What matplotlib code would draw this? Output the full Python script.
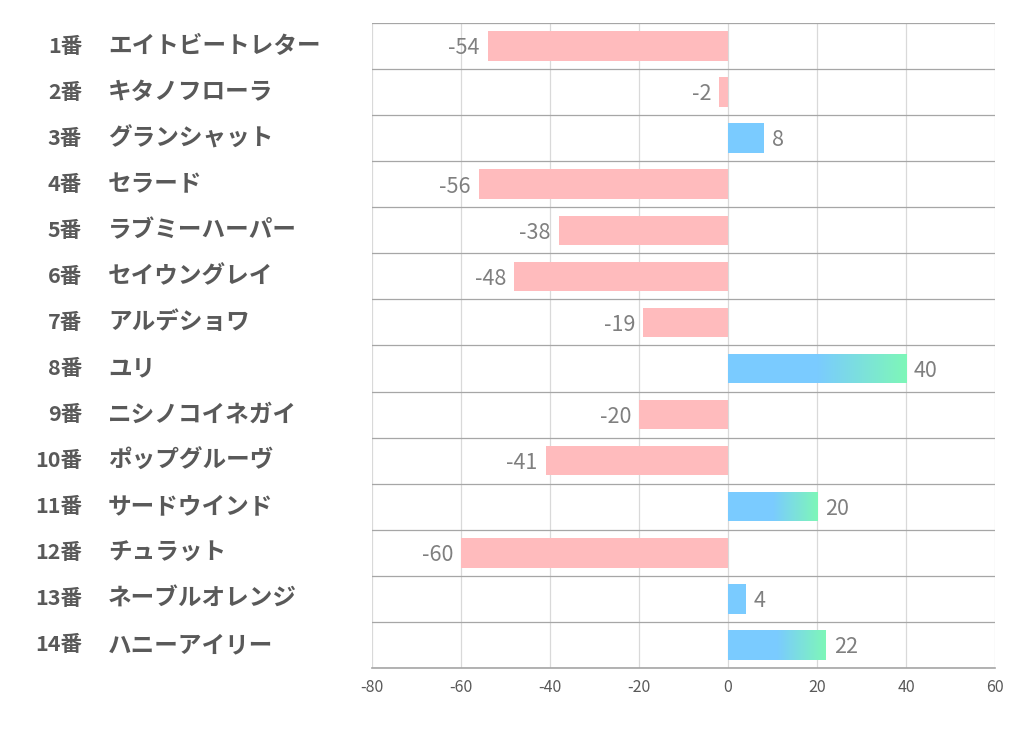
import matplotlib
matplotlib.use("Agg")
import matplotlib.pyplot as plt
import matplotlib.transforms as mtransforms
from matplotlib.colors import LinearSegmentedColormap
import numpy as np

plt.rcParams["font.family"] = ["Noto Sans CJK JP", "DejaVu Sans"]

numbers = ["1番", "2番", "3番", "4番", "5番", "6番", "7番", "8番", "9番",
           "10番", "11番", "12番", "13番", "14番"]
names = ["エイトビートレター", "キタノフローラ", "グランシャット", "セラード",
         "ラブミーハーパー", "セイウングレイ", "アルデショワ", "ユリ",
         "ニシノコイネガイ", "ポップグルーヴ", "サードウインド", "チュラット",
         "ネーブルオレンジ", "ハニーアイリー"]
values = [-54, -2, 8, -56, -38, -48, -19, 40, -20, -41, 20, -60, 4, 22]
xticks = [-80, -60, -40, -20, 0, 20, 40, 60]

pink = "#FFBBBD"
blue = "#7ACBFF"
green = "#7EF7B8"
grad = LinearSegmentedColormap.from_list("bg", [blue, green])

fig = plt.figure(figsize=(10.22, 7.30), dpi=100)
ax = fig.add_axes([0.364, 0.085, 0.6096, 0.8835])

n = len(values)
ypos = np.arange(n)
bar_h = 0.64

for y, v in zip(ypos, values):
    if v < 0:
        ax.barh(y, v, height=bar_h, color=pink, zorder=3)
        ax.text(v - 1.8, y + 0.05, str(v), ha="right", va="center",
                fontsize=15.5, color="#7F7F7F", zorder=4)
    else:
        bars = ax.barh(y, v, height=bar_h, color=blue, zorder=3)
        if v >= 20:
            start = v / 2
            img = np.linspace(0, 1, 256).reshape(1, -1)
            im = ax.imshow(img, cmap=grad, aspect="auto",
                           extent=[start, v, y + bar_h / 2, y - bar_h / 2],
                           zorder=3.5, interpolation="bicubic")
            im.set_clip_path(bars[0])
        ax.text(v + 1.8, y + 0.05, str(v), ha="left", va="center",
                fontsize=15.5, color="#7F7F7F", zorder=4)

ax.set_xlim(-80, 60)
ax.set_ylim(n - 0.5, -0.5)
ax.set_xticks(xticks)
ax.set_xticklabels([str(t) for t in xticks], fontsize=11.5, color="#595959")
ax.set_yticks([])
ax.tick_params(axis="x", length=0, pad=8)

for xt in xticks:
    ax.axvline(xt, color="#D9D9D9", lw=0.9, zorder=1)
for b in np.arange(-0.5, n, 1.0):
    ax.axhline(b, color="#A6A6A6", lw=0.9, zorder=2)

for s in ["top", "right", "left"]:
    ax.spines[s].set_visible(False)
ax.spines["bottom"].set_color("#A6A6A6")
ax.spines["bottom"].set_linewidth(1.2)

trans = mtransforms.blended_transform_factory(fig.transFigure, ax.transData)
for y, num, name in zip(ypos, numbers, names):
    ax.text(82 / 1022, y, num, transform=trans, ha="right", va="center",
            fontsize=15.5, fontweight="bold", color="#595959")
    ax.text(108 / 1022, y, name, transform=trans, ha="left", va="center",
            fontsize=17, fontweight="bold", color="#595959")

fig.savefig("out.png", dpi=100, facecolor="white")
